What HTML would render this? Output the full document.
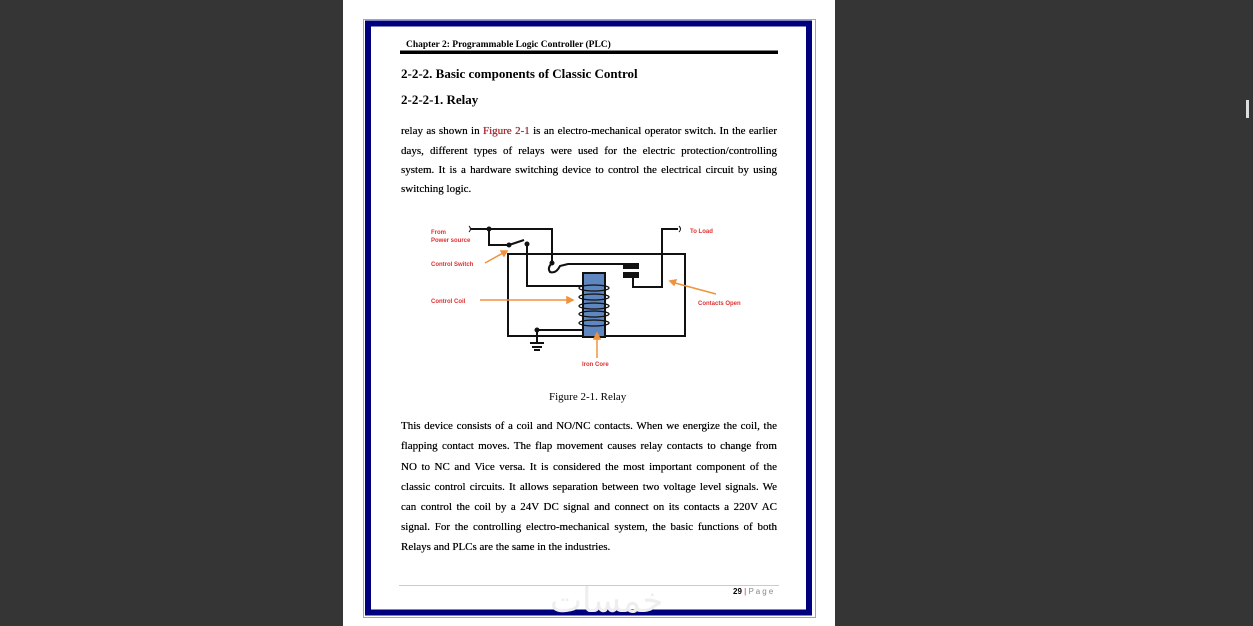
<!DOCTYPE html>
<html><head><meta charset="utf-8"><style>
body{margin:0;width:1253px;height:626px;background:#353535;position:relative;overflow:hidden;font-family:"Liberation Serif",serif;}
.page{position:absolute;left:343px;top:0;width:492px;height:626px;background:#fff;}
.t{position:absolute;color:#000;}
.p{position:absolute;left:401px;width:376px;font-size:11px;text-align:justify;text-align-last:justify;white-space:nowrap;color:#000;text-shadow:0 0 0.4px #000;}
.p.l{text-align-last:left;}
</style></head><body>
<div class="page"></div>
<svg style="position:absolute;left:0;top:0" width="1253" height="626">
<rect x="363.5" y="19.5" width="452" height="598" fill="none" stroke="#8fa8dc" stroke-width="1"/>
<rect x="368" y="23.5" width="441" height="589" fill="none" stroke="#00007f" stroke-width="6"/>
<rect x="400" y="50.5" width="378" height="3.5" fill="#000"/>
<line x1="399" y1="585.5" x2="779" y2="585.5" stroke="#ccc"/>
<text x="550" y="612" font-size="34" fill="#eee" font-family="DejaVu Sans,sans-serif">خمسات</text>
<rect x="1246" y="100" width="3" height="18" fill="#ddd"/>
<g stroke="#111" stroke-width="2" fill="none">
<path d="M471 229 H552 V263"/>
<path d="M489 229 V245 H509"/>
<path d="M509 245 L524 240"/>
<path d="M527 244 V286 H583"/>
<path d="M552 263 Q547 268 550 272 Q556 274 560 266 L568 264 H624"/>
<path d="M633 278 V287 H662 V229 H678"/>
<rect x="508" y="254" width="177" height="82"/>
<path d="M583 330 H537 V342"/>
<path d="M530 343 H544 M532 347 H542 M534 350 H540"/>
<path d="M469 226 q3 3 0 6 M679 226 q3 3 0 6" stroke-width="1"/>
</g>
<rect x="583" y="273" width="22" height="64" fill="#5f86bf" stroke="#111" stroke-width="2"/>
<g stroke="#111" stroke-width="1.3" fill="none">
<ellipse cx="594" cy="288" rx="15" ry="3"/><ellipse cx="594" cy="297" rx="15" ry="3"/><ellipse cx="594" cy="306" rx="15" ry="3"/><ellipse cx="594" cy="314" rx="15" ry="3"/><ellipse cx="594" cy="323" rx="15" ry="3"/>
</g>
<rect x="623" y="263" width="16" height="6" fill="#111"/>
<rect x="623" y="272" width="16" height="6" fill="#111"/>
<g fill="#111"><circle cx="489" cy="229" r="2.5"/><circle cx="509" cy="245" r="2.5"/><circle cx="527" cy="244" r="2.5"/><circle cx="552" cy="263" r="2.5"/><circle cx="537" cy="330" r="2.5"/></g>
<g stroke="#f0923c" stroke-width="1.5" fill="#f0923c">
<line x1="485" y1="263" x2="503" y2="253"/><path d="M507 251 l-6 0 l3 5z"/>
<line x1="480" y1="300" x2="568" y2="300"/><path d="M573 300 l-6 -3 v6z"/>
<line x1="716" y1="294" x2="675" y2="283"/><path d="M670 281 l6 -1 l-2 5z"/>
<line x1="597" y1="358" x2="597" y2="338"/><path d="M597 333 l-3 6 h6z"/>
</g>
<g fill="#e03030" font-family="Liberation Sans,sans-serif" font-size="6" font-weight="bold">
<text x="431" y="234">From</text><text x="431" y="242">Power source</text>
<text x="431" y="266">Control Switch</text><text x="431" y="303">Control Coil</text>
<text x="698" y="305">Contacts Open</text><text x="582" y="366">Iron Core</text><text x="690" y="233">To Load</text>
</g>
</svg>
<div class="t" style="left:406px;top:40px;font-size:9.5px;font-weight:bold;">Chapter 2: Programmable Logic Controller (PLC)</div>
<div class="t" style="left:401px;top:66px;font-size:13px;font-weight:bold;">2-2-2. Basic components of Classic Control</div>
<div class="t" style="left:401px;top:92px;font-size:13px;font-weight:bold;">2-2-2-1. Relay</div>
<div class="p" style="top:125px">relay as shown in <span style="color:#c0282d">Figure 2-1</span> is an electro-mechanical operator switch. In the earlier</div>
<div class="p" style="top:145px">days, different types of relays were used for the electric protection/controlling</div>
<div class="p" style="top:164px">system. It is a hardware switching device to control the electrical circuit by using</div>
<div class="p l" style="top:183px">switching logic.</div>
<div class="t" style="left:549px;top:391px;font-size:11px;">Figure 2-1. Relay</div>
<div class="p" style="top:420px">This device consists of a coil and NO/NC contacts. When we energize the coil, the</div>
<div class="p" style="top:440px">flapping contact moves. The flap movement causes relay contacts to change from</div>
<div class="p" style="top:461px">NO to NC and Vice versa. It is considered the most important component of the</div>
<div class="p" style="top:481px">classic control circuits. It allows separation between two voltage level signals. We</div>
<div class="p" style="top:501px">can control the coil by a 24V DC signal and connect on its contacts a 220V AC</div>
<div class="p" style="top:521px">signal. For the controlling electro-mechanical system, the basic functions of both</div>
<div class="p l" style="top:541px">Relays and PLCs are the same in the industries.</div>
<div class="t" style="left:733px;top:587px;font-size:8px;font-family:'Liberation Sans',sans-serif;"><b>29</b> <span style="color:#c0282d">|</span> <span style="color:#888;letter-spacing:2px">Page</span></div>
</body></html>
